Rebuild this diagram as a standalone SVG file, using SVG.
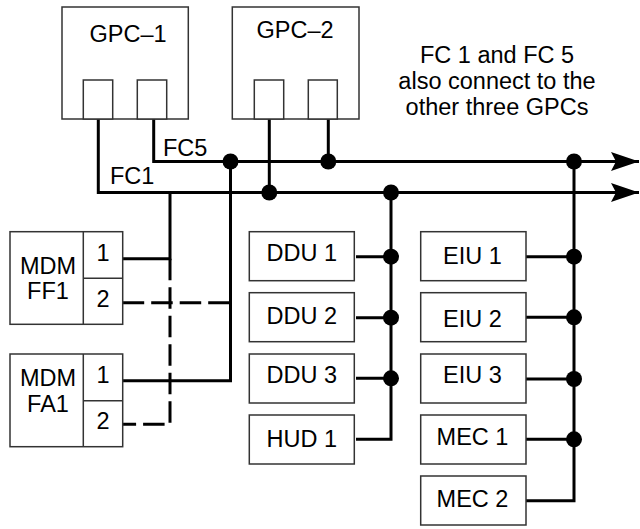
<svg xmlns="http://www.w3.org/2000/svg" width="640" height="529" viewBox="0 0 640 529">
<defs>
<style>
.box{fill:#fff;stroke:#333;stroke-width:1.5}
.ln{fill:none;stroke:#000;stroke-width:3}
.dash{fill:none;stroke:#000;stroke-width:3;stroke-dasharray:21.5 7}
.dot{fill:#000}
text{font-family:"Liberation Sans",Arial,sans-serif;font-size:23.5px;fill:#000;text-anchor:middle}
.l{text-anchor:start}
</style>
<marker id="arr" markerUnits="userSpaceOnUse" viewBox="-29 -10 30 20" refX="0" refY="0" markerWidth="30" markerHeight="20" orient="auto">
<path d="M0,0 L-28,-9.5 L-23,0 L-28,9.5 Z" fill="#000"/>
</marker>
</defs>
<rect width="640" height="529" fill="#fff"/>
<g id="connectors">
<path class="ln" d="M153.7,119 V161.5 H639" marker-end="url(#arr)"/>
<path class="ln" d="M98.3,119 V192.5 H639" marker-end="url(#arr)"/>
<path class="ln" d="M269.3,119 V192.5"/>
<path class="ln" d="M328.3,119 V161.5"/>
<path class="ln" d="M230.5,161.5 V380.7 H122.7"/>
<path class="ln" d="M170,192.5 V258.7 H122.7"/>
<path class="dash" d="M170,258.7 V424.3 H122.7"/>
<path class="dash" d="M122.7,302.7 H230.5"/>
<path class="ln" d="M391,192.5 V439.3 H356"/>
<path class="ln" d="M356,256.7 H391 M356,317.7 H391 M356,378.3 H391"/>
<path class="ln" d="M574,161.5 V500.7 H526"/>
<path class="ln" d="M526,256.7 H574 M526,317.3 H574 M526,379 H574 M526,439.3 H574"/>
<circle class="dot" cx="230.5" cy="161.5" r="8"/>
<circle class="dot" cx="328.3" cy="161.5" r="8"/>
<circle class="dot" cx="574" cy="161.5" r="8"/>
<circle class="dot" cx="269.3" cy="192.5" r="8"/>
<circle class="dot" cx="391" cy="192.5" r="8"/>
<circle class="dot" cx="391" cy="256.7" r="8"/>
<circle class="dot" cx="391" cy="317.7" r="8"/>
<circle class="dot" cx="391" cy="378.3" r="8"/>
<circle class="dot" cx="574" cy="256.7" r="8"/>
<circle class="dot" cx="574" cy="317.3" r="8"/>
<circle class="dot" cx="574" cy="379" r="8"/>
<circle class="dot" cx="574" cy="439.3" r="8"/>
<text class="l" x="163" y="156">FC5</text>
<text class="l" x="110" y="184">FC1</text>
</g>
<g id="gpc1">
<rect class="box" x="62" y="7" width="126.3" height="112"/>
<rect class="box" x="83.3" y="80" width="29.4" height="39"/>
<rect class="box" x="137.3" y="80" width="29.4" height="39"/>
<text x="128" y="42">GPC–1</text>
</g>
<g id="gpc2">
<rect class="box" x="232.3" y="7" width="126.7" height="112"/>
<rect class="box" x="254.3" y="80" width="29.4" height="39"/>
<rect class="box" x="308.3" y="80" width="29" height="39"/>
<text x="295" y="38">GPC–2</text>
</g>
<g id="note">
<text x="497" y="63">FC 1 and FC 5</text>
<text x="497" y="89">also connect to the</text>
<text x="497" y="115">other three GPCs</text>
</g>
<g id="mdm-ff1">
<rect class="box" x="10" y="231.7" width="112.7" height="92.6"/>
<path class="box" d="M83.3,231.7 V324.3 M83.3,278.3 H122.7"/>
<text x="48" y="274">MDM</text>
<text x="48" y="299">FF1</text>
<text x="103" y="261">1</text>
<text x="103" y="307">2</text>
</g>
<g id="mdm-fa1">
<rect class="box" x="10" y="354" width="112.7" height="92.7"/>
<path class="box" d="M83.3,354 V446.7 M83.3,400.7 H122.7"/>
<text x="48" y="386">MDM</text>
<text x="48" y="412">FA1</text>
<text x="103" y="383">1</text>
<text x="103" y="429">2</text>
</g>
<g id="ddu1"><rect class="box" x="249.3" y="231.7" width="105" height="49"/><text x="301.8" y="261">DDU 1</text></g>
<g id="ddu2"><rect class="box" x="249.3" y="292.7" width="105" height="49"/><text x="301.8" y="324">DDU 2</text></g>
<g id="ddu3"><rect class="box" x="249.3" y="354" width="105" height="49"/><text x="301.8" y="383">DDU 3</text></g>
<g id="hud1"><rect class="box" x="249.3" y="415" width="105" height="49"/><text x="301.8" y="447">HUD 1</text></g>
<g id="eiu1"><rect class="box" x="420.7" y="231.7" width="105.3" height="49"/><text x="472.5" y="264">EIU 1</text></g>
<g id="eiu2"><rect class="box" x="420.7" y="292.7" width="105.3" height="49"/><text x="472.5" y="327">EIU 2</text></g>
<g id="eiu3"><rect class="box" x="420.7" y="354" width="105.3" height="49"/><text x="472.5" y="383">EIU 3</text></g>
<g id="mec1"><rect class="box" x="420.7" y="415" width="105.3" height="49"/><text x="472.5" y="445">MEC 1</text></g>
<g id="mec2"><rect class="box" x="420.7" y="476" width="105.3" height="49"/><text x="472.5" y="507">MEC 2</text></g>
</svg>
